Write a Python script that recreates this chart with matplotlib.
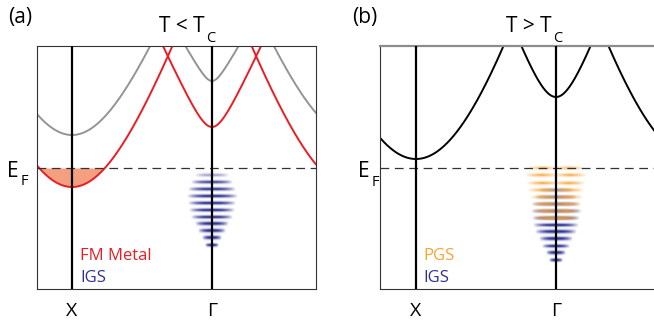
import numpy as np
import matplotlib
matplotlib.use("Agg")
import matplotlib.pyplot as plt
from matplotlib.colors import to_rgb

plt.rcParams['font.family'] = ['Open Sans', 'DejaVu Sans']

#----------------------- data --------------------------------------------------
# k axis: X = 0, Gamma = 1 ; energy: E_F = 0
tick_pos = [0, 1]
tick_labels = ['X', 'Γ']

# bands (k0, E0, m, v) : E = E0 + sqrt(m^2 + (v (k-k0))^2) - m
bands_a_red = [(0, -0.19, 2.3, 4.06), (2, -0.19, 2.3, 4.06), (1, 0.41, 0.3, 3.05)]
bands_a_gray = [(0, 0.33, 1.9, 3.66), (2, 0.33, 1.9, 3.66), (1, 0.87, 0.15, 2.51)]
bands_b = [(0, 0.09, 4.0, 5.14), (2, 0.09, 4.0, 5.14), (1, 0.71, 0.6, 3.78)]

# in-gap states, stripe energies and half widths
igs_a_E = [-0.07, -0.14, -0.21, -0.28, -0.35, -0.42, -0.49, -0.56, -0.63, -0.70, -0.77]
igs_a_hw = [0.121, 0.15, 0.171, 0.179, 0.171, 0.164, 0.15, 0.121, 0.10, 0.071, 0.05]
igs_a_alpha = [0.4, 0.8, 0.9, 0.95, 0.95, 0.95, 0.95, 0.95, 0.95, 0.95, 0.95]

igs_b_E = [-0.22, -0.29, -0.36, -0.43, -0.50, -0.57, -0.64, -0.71, -0.78, -0.85, -0.92]
igs_b_hw = [0.121, 0.15, 0.171, 0.179, 0.171, 0.164, 0.15, 0.121, 0.10, 0.071, 0.05]
igs_b_alpha = [0.5, 0.6, 0.7, 0.8, 0.9, 0.95, 0.95, 0.95, 0.95, 0.95, 0.95]

pgs_b_E = [0.0, -0.07, -0.15, -0.22, -0.29, -0.36, -0.43, -0.50]
pgs_b_hw = [0.20, 0.221, 0.207, 0.20, 0.186, 0.179, 0.171, 0.157]
pgs_b_center = [0.1, 0.2, 0.3, 0.4, 0.5, 0.6, 0.75, 0.9]
pgs_b_alpha = [0.75, 0.9, 0.95, 0.9, 0.85, 0.85, 0.85, 0.9]

red = '#ec1c24'
gray = '#949494'
blue = '#2e3192'
orange = '#f8a431'
fill_col = '#f4a080'


def band(k, p):
    k0, E0, m, v = p
    return E0 + np.sqrt(m**2 + (v*(k-k0))**2) - m


def stripe(ax, E, hw, col, alpha, center=1.0):
    nx, ny = 200, 15
    u = np.linspace(-1, 1, nx)
    y = np.linspace(-1, 1, ny)
    prof = np.clip(1 - np.abs(u)**2.5, 0, 1)
    cen = center + (1 - center)*np.clip(np.abs(u)/0.45, 0, 1)
    prof = prof*cen
    vert = np.exp(-(y/0.55)**2)
    img = np.zeros((ny, nx, 4))
    img[..., :3] = to_rgb(col)
    img[..., 3] = np.clip(alpha*1.15*np.outer(vert, prof), 0, 1)
    ax.imshow(img, extent=[1-hw, 1+hw, E-0.03, E+0.03], origin='lower',
              aspect='auto', interpolation='bilinear', zorder=3)


fig = plt.figure(figsize=(6.54, 3.29), dpi=100)
axa = fig.add_axes([37/654, 40/329, 279/654, 243/329])
axb = fig.add_axes([380/654, 40/329, 279/654, 243/329])

ylim = (-1.21, 1.22)

#----------------------- panel (a) ---------------------------------------------
k = np.linspace(-0.3, 2.3, 800)
for p in bands_a_gray:
    axa.plot(k, band(k, p), color=gray, lw=1.4, zorder=2)
for p in bands_a_red:
    axa.plot(k, band(k, p), color=red, lw=1.4, zorder=2)
Ex = band(k, bands_a_red[0])
axa.fill_between(k, Ex, 0, where=(Ex < 0) & (k < 0.6), color=fill_col, lw=0, zorder=1)

for E, hw, al in zip(igs_a_E, igs_a_hw, igs_a_alpha):
    stripe(axa, E, hw, blue, al)

axa.text(0.057, -0.92, 'FM Metal', color=red, fontsize=12, va='baseline')
axa.text(0.057, -1.14, 'IGS', color=blue, fontsize=12, va='baseline')

#----------------------- panel (b) ---------------------------------------------
for p in bands_b:
    axb.plot(k, band(k, p), color='black', lw=1.4, zorder=2)

for E, hw, al in zip(igs_b_E, igs_b_hw, igs_b_alpha):
    stripe(axb, E, hw, blue, al)
for E, hw, al, c in zip(pgs_b_E, pgs_b_hw, pgs_b_alpha, pgs_b_center):
    stripe(axb, E, hw, orange, al, center=c)

axb.text(0.05, -0.92, 'PGS', color=orange, fontsize=12, va='baseline')
axb.text(0.05, -1.14, 'IGS', color=blue, fontsize=12, va='baseline')

#----------------------- common ------------------------------------------------
for ax in (axa, axb):
    ax.set_ylim(*ylim)
    ax.axhline(0, color='#333333', lw=0.9, dashes=(7, 4.5), zorder=4)
    for kk in tick_pos:
        ax.axvline(kk, color='black', lw=1.6, zorder=5)
    ax.set_xticks(tick_pos)
    ax.set_xticklabels(tick_labels, fontsize=14)
    ax.tick_params(length=0, pad=9)
    ax.set_yticks([])
    for s in ax.spines.values():
        s.set_linewidth(0.8)
        s.set_color('#333333')

axa.set_xlim(-0.25, -0.25 + 279/140)
axb.set_xlim(-0.257, -0.257 + 279/140)
axb.spines['top'].set_color('#8c8c8c')
axb.spines['top'].set_linewidth(1.6)

H = 329
fig.text(8/654, 1 - 17/H, '(a)', fontsize=15, va='center', ha='left')
fig.text(352/654, 1 - 17/H, '(b)', fontsize=15, va='center', ha='left')
fig.text(205/654, 1 - 32/H, 'T < T', fontsize=15, ha='right', va='baseline')
fig.text(206/654, 1 - 42/H, 'C', fontsize=10.5, ha='left', va='baseline')
fig.text(552/654, 1 - 32/H, 'T > T', fontsize=15, ha='right', va='baseline')
fig.text(553/654, 1 - 42/H, 'C', fontsize=10.5, ha='left', va='baseline')
fig.text(7/654, 1 - 177/H, 'E', fontsize=15, ha='left', va='baseline')
fig.text(21/654, 1 - 185/H, 'F', fontsize=10.5, ha='left', va='baseline')
fig.text(358/654, 1 - 177/H, 'E', fontsize=15, ha='left', va='baseline')
fig.text(372/654, 1 - 186/H, 'F', fontsize=10.5, ha='left', va='baseline')

fig.savefig('out.png', dpi=100)
